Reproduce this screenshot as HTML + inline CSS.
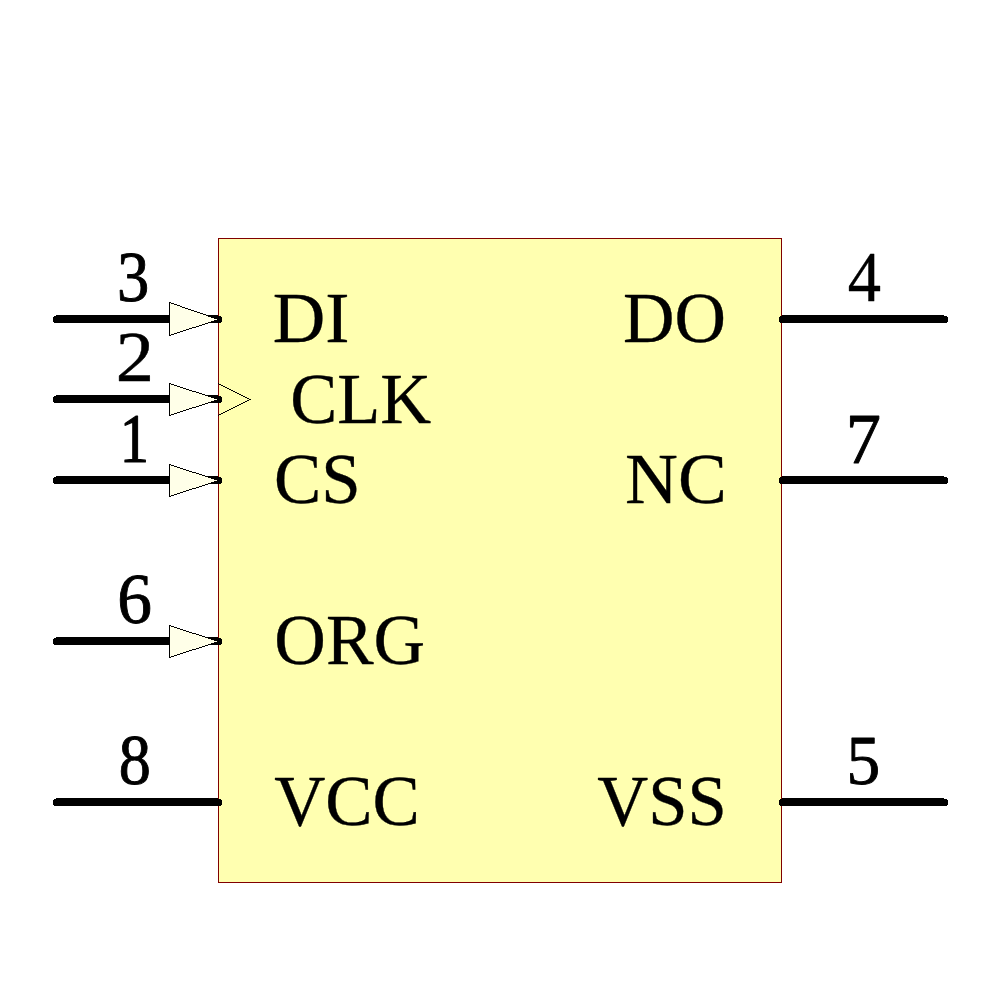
<!DOCTYPE html>
<html>
<head>
<meta charset="utf-8">
<title>Schematic symbol</title>
<style>
html,body{margin:0;padding:0;background:#fff;}
body{width:1000px;height:1000px;overflow:hidden;position:relative;}
svg{position:absolute;left:0;top:0;display:block;}
text{font-family:"Liberation Serif","Times New Roman",serif;font-size:74px;fill:#000;}
.trifill{fill:#ffffe8;stroke:none;shape-rendering:crispEdges;}
.px{fill:#000;shape-rendering:crispEdges;}
</style>
</head>
<body>
<svg width="1000" height="1000" viewBox="0 0 1000 1000">
  <!-- component body -->
  <rect x="218.5" y="238.5" width="563" height="644" fill="#ffffb0" stroke="#800000" stroke-width="1" shape-rendering="crispEdges"/>
  <!-- left pins -->
  <path class="px" d="M56 315H218V316H221V317H222V322H221V323H54V322H53V317H54V316H56Z"/>
  <path class="px" d="M56 395H218V396H221V397H222V402H221V403H54V402H53V397H54V396H56Z"/>
  <path class="px" d="M56 476H218V477H221V478H222V483H221V484H54V483H53V478H54V477H56Z"/>
  <path class="px" d="M56 637H218V638H221V639H222V644H221V645H54V644H53V639H54V638H56Z"/>
  <path class="px" d="M56 798H218V799H221V800H222V805H221V806H54V805H53V800H54V799H56Z"/>
  <!-- right pins -->
  <path class="px" d="M782 315H944V316H947V317H948V322H947V323H780V322H779V317H780V316H782Z"/>
  <path class="px" d="M782 476H944V477H947V478H948V483H947V484H780V483H779V478H780V477H782Z"/>
  <path class="px" d="M782 798H944V799H947V800H948V805H947V806H780V805H779V800H780V799H782Z"/>
  <!-- input arrows -->
  <polygon class="trifill" points="169.5,302.5 218.5,319.5 169.5,335.5"/>
  <path class="px" d="M169 302h2v1h-2zM169 303h1v1h-1zM171 303h3v1h-3zM169 304h1v1h-1zM174 304h3v1h-3zM169 305h1v1h-1zM177 305h3v1h-3zM169 306h1v1h-1zM180 306h2v1h-2zM169 307h1v1h-1zM182 307h3v1h-3zM169 308h1v1h-1zM185 308h3v1h-3zM169 309h1v1h-1zM188 309h3v1h-3zM169 310h1v1h-1zM191 310h3v1h-3zM169 311h1v1h-1zM194 311h3v1h-3zM169 312h1v1h-1zM197 312h3v1h-3zM169 313h1v1h-1zM200 313h3v1h-3zM169 314h1v1h-1zM203 314h3v1h-3zM169 315h1v1h-1zM206 315h2v1h-2zM169 316h1v1h-1zM208 316h3v1h-3zM169 317h1v1h-1zM211 317h3v1h-3zM169 318h1v1h-1zM214 318h3v1h-3zM169 319h1v1h-1zM217 319h2v1h-2zM169 320h1v1h-1zM214 320h3v1h-3zM169 321h1v1h-1zM211 321h3v1h-3zM169 322h1v1h-1zM208 322h3v1h-3zM169 323h1v1h-1zM205 323h3v1h-3zM169 324h1v1h-1zM202 324h3v1h-3zM169 325h1v1h-1zM199 325h3v1h-3zM169 326h1v1h-1zM196 326h3v1h-3zM169 327h1v1h-1zM192 327h4v1h-4zM169 328h1v1h-1zM189 328h3v1h-3zM169 329h1v1h-1zM186 329h3v1h-3zM169 330h1v1h-1zM183 330h3v1h-3zM169 331h1v1h-1zM180 331h3v1h-3zM169 332h1v1h-1zM177 332h3v1h-3zM169 333h1v1h-1zM174 333h3v1h-3zM169 334h1v1h-1zM171 334h3v1h-3zM169 335h2v1h-2z"/>
  <polygon class="trifill" points="169.5,383.5 218.5,399.5 169.5,415.5"/>
  <path class="px" d="M169 383h2v1h-2zM169 384h1v1h-1zM171 384h3v1h-3zM169 385h1v1h-1zM174 385h3v1h-3zM169 386h1v1h-1zM177 386h3v1h-3zM169 387h1v1h-1zM180 387h3v1h-3zM169 388h1v1h-1zM183 388h3v1h-3zM169 389h1v1h-1zM186 389h3v1h-3zM169 390h1v1h-1zM189 390h3v1h-3zM169 391h1v1h-1zM192 391h4v1h-4zM169 392h1v1h-1zM196 392h3v1h-3zM169 393h1v1h-1zM199 393h3v1h-3zM169 394h1v1h-1zM202 394h3v1h-3zM169 395h1v1h-1zM205 395h3v1h-3zM169 396h1v1h-1zM208 396h3v1h-3zM169 397h1v1h-1zM211 397h3v1h-3zM169 398h1v1h-1zM214 398h3v1h-3zM169 399h1v1h-1zM217 399h2v1h-2zM169 400h1v1h-1zM214 400h3v1h-3zM169 401h1v1h-1zM211 401h3v1h-3zM169 402h1v1h-1zM208 402h3v1h-3zM169 403h1v1h-1zM205 403h3v1h-3zM169 404h1v1h-1zM202 404h3v1h-3zM169 405h1v1h-1zM199 405h3v1h-3zM169 406h1v1h-1zM196 406h3v1h-3zM169 407h1v1h-1zM192 407h4v1h-4zM169 408h1v1h-1zM189 408h3v1h-3zM169 409h1v1h-1zM186 409h3v1h-3zM169 410h1v1h-1zM183 410h3v1h-3zM169 411h1v1h-1zM180 411h3v1h-3zM169 412h1v1h-1zM177 412h3v1h-3zM169 413h1v1h-1zM174 413h3v1h-3zM169 414h1v1h-1zM171 414h3v1h-3zM169 415h2v1h-2z"/>
  <polygon class="trifill" points="169.5,464.5 218.5,480.5 169.5,496.5"/>
  <path class="px" d="M169 464h2v1h-2zM169 465h1v1h-1zM171 465h3v1h-3zM169 466h1v1h-1zM174 466h3v1h-3zM169 467h1v1h-1zM177 467h3v1h-3zM169 468h1v1h-1zM180 468h3v1h-3zM169 469h1v1h-1zM183 469h3v1h-3zM169 470h1v1h-1zM186 470h3v1h-3zM169 471h1v1h-1zM189 471h3v1h-3zM169 472h1v1h-1zM192 472h4v1h-4zM169 473h1v1h-1zM196 473h3v1h-3zM169 474h1v1h-1zM199 474h3v1h-3zM169 475h1v1h-1zM202 475h3v1h-3zM169 476h1v1h-1zM205 476h3v1h-3zM169 477h1v1h-1zM208 477h3v1h-3zM169 478h1v1h-1zM211 478h3v1h-3zM169 479h1v1h-1zM214 479h3v1h-3zM169 480h1v1h-1zM217 480h2v1h-2zM169 481h1v1h-1zM214 481h3v1h-3zM169 482h1v1h-1zM211 482h3v1h-3zM169 483h1v1h-1zM208 483h3v1h-3zM169 484h1v1h-1zM205 484h3v1h-3zM169 485h1v1h-1zM202 485h3v1h-3zM169 486h1v1h-1zM199 486h3v1h-3zM169 487h1v1h-1zM196 487h3v1h-3zM169 488h1v1h-1zM192 488h4v1h-4zM169 489h1v1h-1zM189 489h3v1h-3zM169 490h1v1h-1zM186 490h3v1h-3zM169 491h1v1h-1zM183 491h3v1h-3zM169 492h1v1h-1zM180 492h3v1h-3zM169 493h1v1h-1zM177 493h3v1h-3zM169 494h1v1h-1zM174 494h3v1h-3zM169 495h1v1h-1zM171 495h3v1h-3zM169 496h2v1h-2z"/>
  <polygon class="trifill" points="169.5,625.5 218.5,641.5 169.5,657.5"/>
  <path class="px" d="M169 625h2v1h-2zM169 626h1v1h-1zM171 626h3v1h-3zM169 627h1v1h-1zM174 627h3v1h-3zM169 628h1v1h-1zM177 628h3v1h-3zM169 629h1v1h-1zM180 629h3v1h-3zM169 630h1v1h-1zM183 630h3v1h-3zM169 631h1v1h-1zM186 631h3v1h-3zM169 632h1v1h-1zM189 632h3v1h-3zM169 633h1v1h-1zM192 633h4v1h-4zM169 634h1v1h-1zM196 634h3v1h-3zM169 635h1v1h-1zM199 635h3v1h-3zM169 636h1v1h-1zM202 636h3v1h-3zM169 637h1v1h-1zM205 637h3v1h-3zM169 638h1v1h-1zM208 638h3v1h-3zM169 639h1v1h-1zM211 639h3v1h-3zM169 640h1v1h-1zM214 640h3v1h-3zM169 641h1v1h-1zM217 641h2v1h-2zM169 642h1v1h-1zM214 642h3v1h-3zM169 643h1v1h-1zM211 643h3v1h-3zM169 644h1v1h-1zM208 644h3v1h-3zM169 645h1v1h-1zM205 645h3v1h-3zM169 646h1v1h-1zM202 646h3v1h-3zM169 647h1v1h-1zM199 647h3v1h-3zM169 648h1v1h-1zM196 648h3v1h-3zM169 649h1v1h-1zM192 649h4v1h-4zM169 650h1v1h-1zM189 650h3v1h-3zM169 651h1v1h-1zM186 651h3v1h-3zM169 652h1v1h-1zM183 652h3v1h-3zM169 653h1v1h-1zM180 653h3v1h-3zM169 654h1v1h-1zM177 654h3v1h-3zM169 655h1v1h-1zM174 655h3v1h-3zM169 656h1v1h-1zM171 656h3v1h-3zM169 657h2v1h-2z"/>
  <!-- clock marker -->
  <path class="px" d="M218 383h1v1h-1zM219 384h2v1h-2zM221 385h2v1h-2zM223 386h2v1h-2zM225 387h2v1h-2zM227 388h2v1h-2zM229 389h2v1h-2zM231 390h2v1h-2zM233 391h2v1h-2zM235 392h2v1h-2zM237 393h2v1h-2zM239 394h2v1h-2zM241 395h2v1h-2zM243 396h2v1h-2zM245 397h2v1h-2zM247 398h2v1h-2zM249 399h2v1h-2zM247 400h2v1h-2zM245 401h2v1h-2zM243 402h2v1h-2zM241 403h2v1h-2zM239 404h2v1h-2zM237 405h2v1h-2zM235 406h2v1h-2zM233 407h2v1h-2zM231 408h2v1h-2zM229 409h2v1h-2zM227 410h2v1h-2zM225 411h2v1h-2zM223 412h2v1h-2zM221 413h2v1h-2zM219 414h2v1h-2zM218 415h1v1h-1z"/>
  <!-- pin numbers and names -->
  <text transform="translate(116.88,301.38) scale(0.8730,0.9705)" stroke="#000" stroke-width="0.9" stroke-linejoin="round" vector-effect="non-scaling-stroke">3</text>
  <text transform="translate(115.70,381.16) scale(1.0331,0.9697)" stroke="#000" stroke-width="0.5" stroke-linejoin="round" vector-effect="non-scaling-stroke">2</text>
  <text transform="translate(119.84,461.68) scale(0.7891,0.9551)" stroke="#000" stroke-width="1.1" stroke-linejoin="round" vector-effect="non-scaling-stroke">1</text>
  <text transform="translate(117.21,623.19) scale(0.9385,0.9654)" stroke="#000" stroke-width="0.9" stroke-linejoin="round" vector-effect="non-scaling-stroke">6</text>
  <text transform="translate(118.87,784.19) scale(0.8682,0.9606)" stroke="#000" stroke-width="0.9" stroke-linejoin="round" vector-effect="non-scaling-stroke">8</text>
  <text transform="translate(847.67,301.16) scale(0.8993,0.9746)" stroke="#000" stroke-width="0.4" stroke-linejoin="round" vector-effect="non-scaling-stroke">4</text>
  <text transform="translate(845.72,462.92) scale(0.9513,0.9697)" stroke="#000" stroke-width="0.9" stroke-linejoin="round" vector-effect="non-scaling-stroke">7</text>
  <text transform="translate(846.41,784.21) scale(0.9099,0.9500)" stroke="#000" stroke-width="0.9" stroke-linejoin="round" vector-effect="non-scaling-stroke">5</text>
  <text transform="translate(272.83,342.00) scale(0.9831,0.9730)" stroke="#000" stroke-width="0.35" stroke-linejoin="round" vector-effect="non-scaling-stroke">DI</text>
  <text transform="translate(290.19,422.50) scale(0.9533,0.9730)" stroke="#000" stroke-width="0.35" stroke-linejoin="round" vector-effect="non-scaling-stroke">CLK</text>
  <text transform="translate(274.07,503.00) scale(0.9580,0.9730)" stroke="#000" stroke-width="0.35" stroke-linejoin="round" vector-effect="non-scaling-stroke">CS</text>
  <text transform="translate(274.35,664.00) scale(0.9653,0.9730)" stroke="#000" stroke-width="0.35" stroke-linejoin="round" vector-effect="non-scaling-stroke">ORG</text>
  <text transform="translate(274.18,825.00) scale(0.9577,0.9730)" stroke="#000" stroke-width="0.35" stroke-linejoin="round" vector-effect="non-scaling-stroke">VCC</text>
  <text transform="translate(622.97,342.00) scale(0.9633,0.9730)" stroke="#000" stroke-width="0.35" stroke-linejoin="round" vector-effect="non-scaling-stroke">DO</text>
  <text transform="translate(625.12,503.00) scale(0.9897,0.9730)" stroke="#000" stroke-width="0.35" stroke-linejoin="round" vector-effect="non-scaling-stroke">NC</text>
  <text transform="translate(597.28,825.00) scale(0.9540,0.9730)" stroke="#000" stroke-width="0.35" stroke-linejoin="round" vector-effect="non-scaling-stroke">VSS</text>
</svg>
</body>
</html>
